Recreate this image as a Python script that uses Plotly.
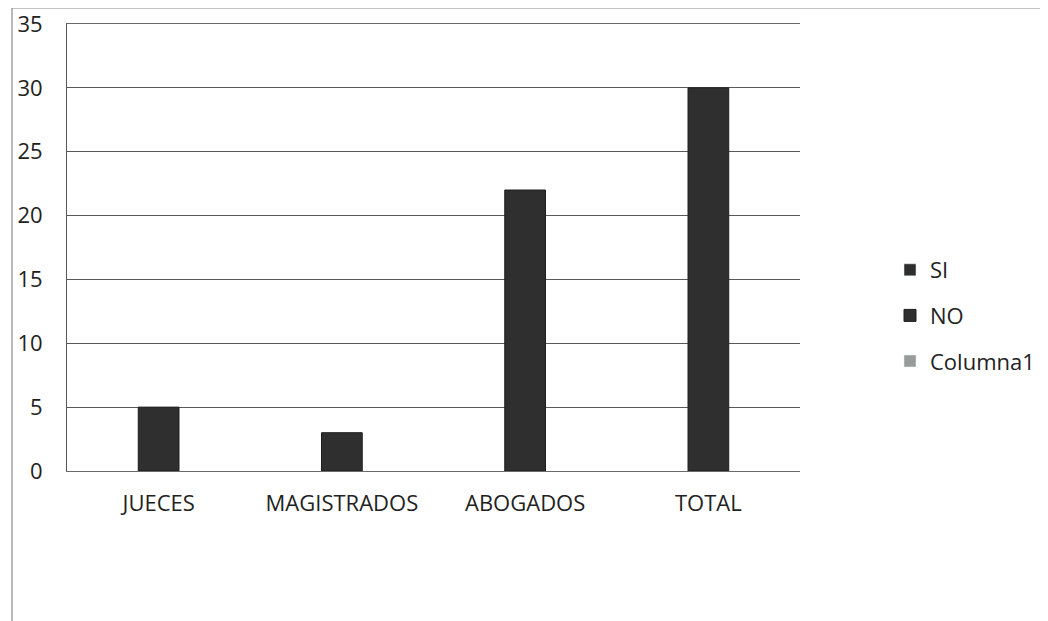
import plotly.graph_objects as go

categories = ["JUECES", "MAGISTRADOS", "ABOGADOS", "TOTAL"]
si_values = [None, None, None, None]
no_values = [5, 3, 22, 30]
columna1_values = [None, None, None, None]
y_ticks = [0, 5, 10, 15, 20, 25, 30, 35]

# page body has an 8px offset; compensate so reference pixel coords line up
OFF = 8
W, H = 1048, 621
L, R, T, B = 67, 248, 24, 150
pw, ph = W - L - R, H - T - B

fig = go.Figure()
fig.add_trace(go.Bar(name="SI", x=categories, y=si_values, marker_color="#2e2e2e",
                     legendgroup="a"))
fig.add_trace(go.Bar(name="NO", x=categories, y=no_values, marker_color="#2f2f2f",
                     marker_line=dict(color="#1e1e1e", width=1), legendgroup="b"))
fig.add_trace(go.Bar(name="Columna1", x=categories, y=columna1_values, marker_color="#9a9a9a",
                     legendgroup="c"))

font = "'Open Sans', sans-serif"
FS = 22
fig.update_layout(
    width=W - OFF, height=H - OFF,
    margin=dict(l=L - OFF, r=R, t=T - OFF, b=B, autoexpand=False),
    paper_bgcolor="white", plot_bgcolor="white",
    barmode="group", bargap=1.5 / 4.5, bargroupgap=0,
    font=dict(family=font, size=FS, color="#222"),
    showlegend=True,
    legend=dict(x=(890 - L) / pw, y=1 - (249 - T) / ph, xanchor="left", yanchor="top",
                tracegroupgap=14, font=dict(size=FS, color="#222"),
                bgcolor="rgba(0,0,0,0)"),
    xaxis=dict(showgrid=False, showline=True, linecolor="#6a6a6a", linewidth=1,
               mirror=True, ticks="", ticklabelstandoff=13, tickfont=dict(size=FS)),
    yaxis=dict(range=[0, 35], tickvals=y_ticks, showgrid=True, gridcolor="#5a5a5a",
               gridwidth=1, showline=True, linecolor="#555", linewidth=1, zeroline=False,
               ticks="", ticklabelstandoff=19, tickfont=dict(size=FS),
               ticklabeloverflow="allow"),
    shapes=[dict(type="rect", xref="paper", yref="paper",
                 x0=(12 - L) / pw, x1=(W + 20 - L) / pw,
                 y0=-(B + 20) / ph, y1=1 + (T - 8) / ph,
                 line=dict(color="#8a8a8a", width=1.2), layer="below")],
)

fig.write_html("out.html")
